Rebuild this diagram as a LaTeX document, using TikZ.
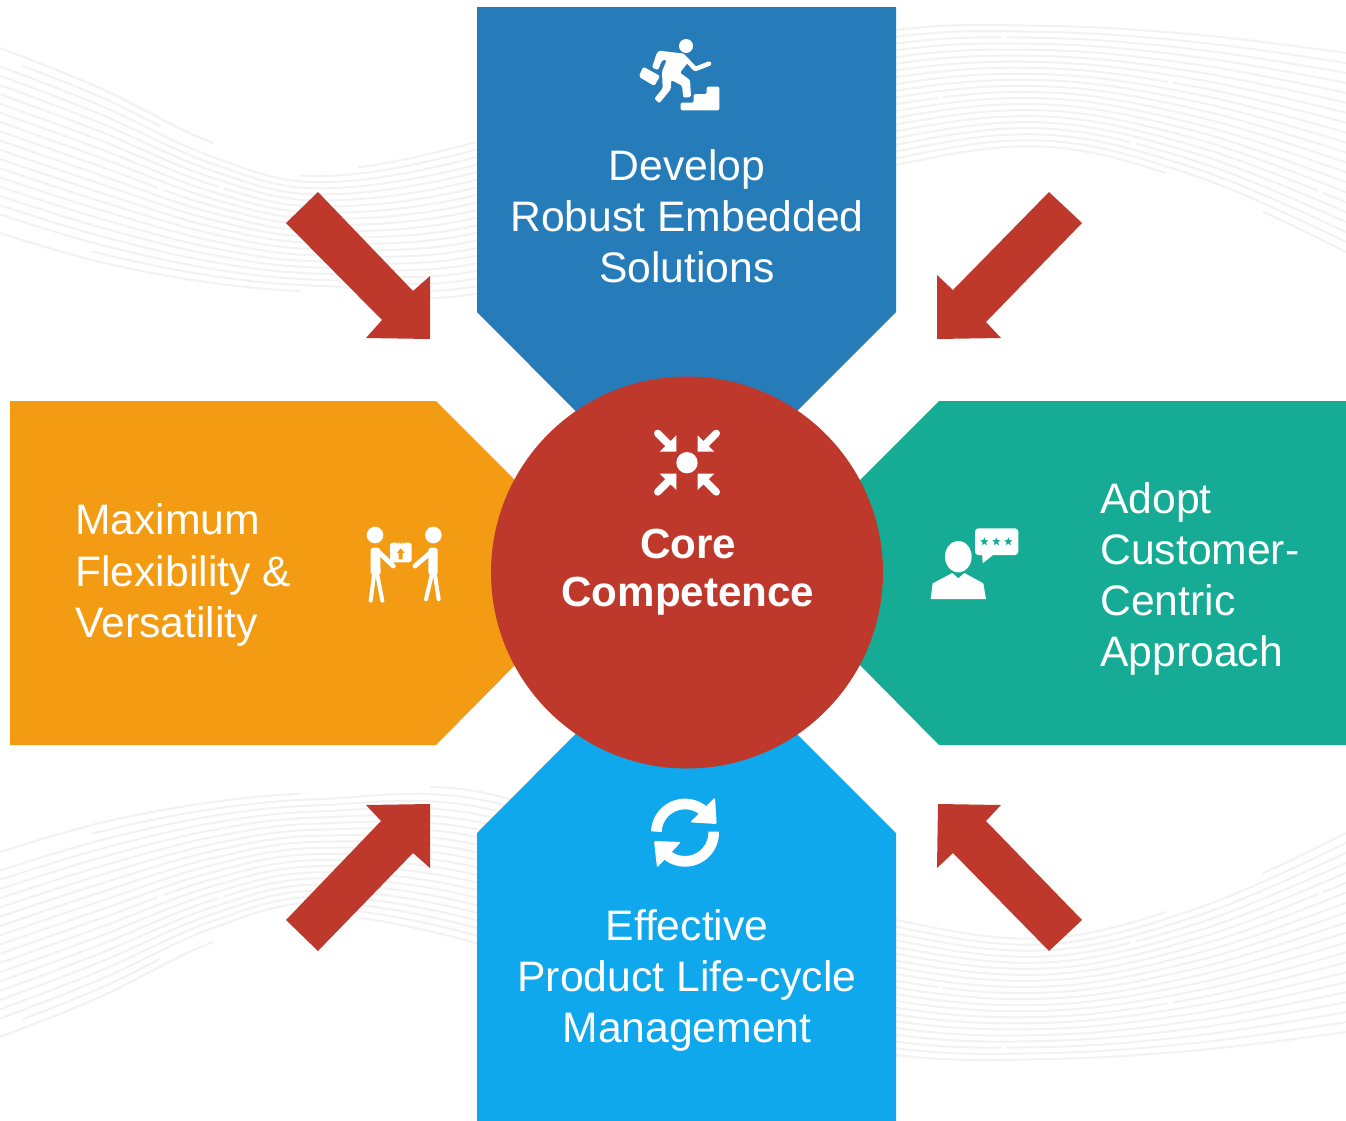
\documentclass[tikz,border=0pt]{standalone}
\usepackage{fontspec}
\setmainfont{Liberation Sans}
\definecolor{cblue}{HTML}{267CB9}
\definecolor{corange}{HTML}{F29B13}
\definecolor{cteal}{HTML}{16AB94}
\definecolor{csky}{HTML}{0FA8EC}
\definecolor{cred}{HTML}{BE392B}
\definecolor{cwave}{HTML}{F2F2F2}
\tikzset{
  wavestroke/.style={draw=cwave,line width=1.5pt,line cap=butt},
  panel/.style={draw=none},
  blockarrow/.style={fill=cred,draw=none},
  label/.style={text=white,font=\fontsize{32}{38.3}\selectfont,inner sep=0pt},
  corelabel/.style={text=white,font=\fontsize{31.6}{36}\selectfont\bfseries,inner sep=0pt,align=center},
  iconfill/.style={fill=white,draw=none},
  iconline/.style={draw=white,line cap=round,line join=round},
}
\newcommand\waveseg[3]{%
  \begin{scope}
    \clip (#2,-300) rectangle (#3,1400);
    \draw[wavestroke] plot[smooth,tension=.6] coordinates {
      (0,{48+#1*9.25}) (100,{88+#1*8.7}) (213,{143+#1*7}) (320,{170+#1*6.1})
      (480,{141+#1*7.6}) (690,{70+#1*7.6}) (896,{30+#1*6.75}) (1050,{26+#1*6.05})
      (1200,{35+#1*7.5}) (1346,{53+#1*9.95})};
  \end{scope}}
\newcommand\wavefamily{%
  \foreach \t/\a/\b in {0/0/213,0/358/1346,1/22/160,1/300/1346,2/0/1001,2/1006/1346,
    3/0/1346,4/0/1346,5/0/1346,6/0/218,6/224/1346,7/0/1168,7/1173/1346,8/0/1346,
    9/0/158,9/164/1346,10/0/1346,11/0/938,11/943/1346,12/0/1346,13/0/1346,14/0/1346,
    15/0/1318,15/1323/1346,16/0/1346,17/0/1130,17/1136/1346,18/0/1346,19/92/1346,
    20/0/300,20/430/1166,20/1263/1346}{\waveseg{\t}{\a}{\b}}}
\begin{document}
\begin{tikzpicture}[x=0.75pt,y=-0.75pt]
\useasboundingbox (0,0) rectangle (1346,1121);
\fill[white] (0,0) rectangle (1346,1121);
% background waves
\wavefamily
\begin{scope}[shift={(0,1085)},yscale=-1]
\wavefamily
\end{scope}
% panels
\fill[cblue,panel] (477,7) -- (896,7) -- (896,312) -- (686,522) -- (477,312) -- cycle;
\fill[corange,panel] (10,401) -- (436,401) -- (607,572) -- (436,745) -- (10,745) -- cycle;
\fill[cteal,panel] (1346,401) -- (939,401) -- (768,572) -- (939,745) -- (1346,745) -- cycle;
\fill[csky,panel] (477,1121) -- (896,1121) -- (896,833) -- (686,623) -- (477,833) -- cycle;
% centre circle
\node[circle,fill=cred,minimum size=294pt,inner sep=0pt] (core) at (687,572.5) {};
% block arrows
\fill[blockarrow] (318,192) -- (286,223) -- (382,320) -- (366,338) -- (430,339) -- (430,276) -- (413,291) -- cycle;
\fill[blockarrow] (1049,192) -- (1082,223) -- (986,322) -- (1001,338) -- (937,339) -- (937,275) -- (953,290) -- cycle;
\fill[blockarrow] (318,951) -- (286,920) -- (381,821) -- (366,805) -- (430,804) -- (430,868) -- (413,853) -- cycle;
\fill[blockarrow] (1049,951) -- (1082,920) -- (986,821) -- (1001,805) -- (938,804) -- (937,868) -- (953,853) -- cycle;
% texts
\node[label,align=center] (top) at (687,216) {Develop\\Robust Embedded\\Solutions};
\node[label,align=left,anchor=west] (left) at (75,575) {Maximum\\Flexibility \&\\Versatility};
\node[label,align=left,anchor=west] (right) at (1100,579) {Adopt\\Customer-\\Centric\\Approach};
\node[label,align=center] (bottom) at (687,980.5) {Effective\\Product Life-cycle\\Management};
\node[corelabel] (corelabel) at (688,572) {Core\\Competence};
% runner icon
\begin{scope}[shift={(620,20)},scale=1/3]
  \fill[white] (198,78) circle[radius=21];
  \fill[iconfill,rounded corners=1pt] (118,92) -- (192,101) -- (208,122) -- (180,158) -- (210,180) -- (213,231) -- (190,233) -- (186,197) -- (154,180) -- (152,208) -- (118,250) -- (103,236) -- (128,205) -- (126,155) -- (140,120) -- (127,120) -- (114,150) -- (96,143) -- (110,100) -- cycle;
  \draw[iconline,line width=3.4pt] (195,115) -- (226,147) -- (267,131);
  \fill[iconfill,rounded corners=1.5pt] (70,140) -- (120,168) -- (103,198) -- (56,170) -- cycle;
  \fill[iconfill,rounded corners=1pt] (182,248) -- (221,248) -- (221,222) -- (260,222) -- (260,200) -- (298,200) -- (298,271) -- (182,271) -- cycle;
\end{scope}
% converge icon
\begin{scope}[shift={(630,415)},scale=1/3]
  \fill[white] (171,143) circle[radius=32];
  \foreach \sx/\sy in {1/1,-1/1,1/-1,-1/-1}{
    \fill[iconfill] ({171-\sx*32},{143-\sy*33}) -- ({171-\sx*32},{143-\sy*82}) -- ({171-\sx*82},{143-\sy*33}) -- cycle;
    \draw[iconline,line width=5.5pt] ({171-\sx*55},{143-\sy*55}) -- ({171-\sx*88},{143-\sy*88});
  }
\end{scope}
% exchange icon
\begin{scope}[shift={(350,510)},scale=1/3]
  \fill[white] (75,75) circle[radius=25] (250,75) circle[radius=25];
  \fill[iconfill,rounded corners=2pt] (62,113) -- (90,113) -- (92,195) -- (62,195) -- cycle;
  \fill[iconfill,rounded corners=2pt] (235,113) -- (263,113) -- (263,195) -- (235,195) -- cycle;
  \draw[iconline,line width=3.6pt] (85,125) -- (130,168);
  \draw[iconline,line width=3.6pt] (245,125) -- (195,168);
  \draw[iconline,line width=3pt] (72,195) -- (62,272);
  \draw[iconline,line width=3pt] (82,195) -- (97,272);
  \draw[iconline,line width=3pt] (245,195) -- (228,268);
  \draw[iconline,line width=3pt] (255,195) -- (266,268);
  \fill[iconfill,rounded corners=2pt] (120,98) -- (146,98) -- (146,102) -- (158,102) -- (158,98) -- (185,98) -- (185,157) -- (120,157) -- cycle;
  \fill[corange] (140,129) -- (152,115) -- (164,129) -- (158,129) -- (158,148) -- (146,148) -- (146,129) -- cycle;
\end{scope}
% customer icon
\begin{scope}[shift={(920,515)},scale=1/3]
  \fill[iconfill,rounded corners=2.5pt] (165,40) -- (295,40) -- (295,120) -- (165,120) -- cycle;
  \fill[iconfill] (186,110) -- (188,145) -- (225,115) -- cycle;
  \foreach \cx in {193,229,265}{
    \fill[cteal] plot[domain=0:9,samples=10] ({\cx+(9.25+3.75*cos(180*\x))*sin(36*\x)},{80-(9.25+3.75*cos(180*\x))*cos(36*\x)}) -- cycle;
  }
  \fill[white] (115,125) ellipse[x radius=40,y radius=47];
  \fill[iconfill] (32,252) -- (38,205) -- (97,174) -- (115,190) -- (133,174) -- (190,205) -- (198,252) -- cycle;
\end{scope}
% refresh icon
\begin{scope}[shift={(635,785)},scale=1/3]
  \draw[draw=white,line width=8pt] plot[domain=178:48,samples=30] ({150+86*cos(\x)},{143-86*sin(\x)});
  \fill[iconfill,rounded corners=1pt] (240,37) -- (245,117) -- (165,112) -- cycle;
  \draw[draw=white,line width=8pt] plot[domain=2:-132,samples=30] ({150+86*cos(\x)},{143-86*sin(\x)});
  \fill[iconfill,rounded corners=1pt] (57,168) -- (138,171) -- (66,248) -- cycle;
\end{scope}
\end{tikzpicture}
\end{document}
